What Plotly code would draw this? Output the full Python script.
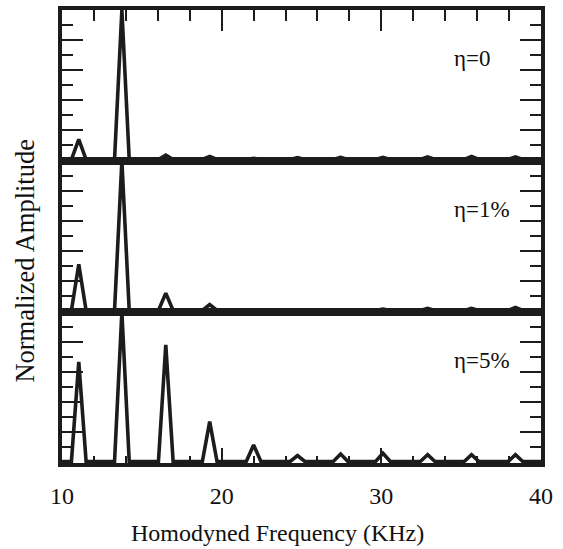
import plotly.graph_objects as go
from plotly.subplots import make_subplots

# ---- data ----
peak_freqs = [11.05, 13.75, 16.5, 19.25, 22.0, 24.75, 27.45, 30.1, 32.9, 35.65, 38.4]
amp_eta0 = [0.135, 1.0, 0.03, 0.02, 0.008, 0.012, 0.015, 0.015, 0.018, 0.02, 0.018]
amp_eta1 = [0.31, 1.0, 0.116, 0.04, 0.004, 0.004, 0.006, 0.01, 0.015, 0.015, 0.02]
amp_eta5 = [0.667, 1.0, 0.78, 0.267, 0.11, 0.04, 0.05, 0.055, 0.045, 0.045, 0.045]
panel_labels = ["η=0", "η=1%", "η=5%"]
x_tick_vals = [10, 20, 30, 40]
x_tick_text = ["10", "20", "30", "40"]

HALF_WIDTH = 0.46  # half base width of each spectral line (KHz)
X_MIN, X_MAX = 10, 40


def spectrum(freqs, amps):
    xs, ys = [X_MIN], [0.0]
    for f, a in zip(freqs, amps):
        xs += [f - HALF_WIDTH, f, f + HALF_WIDTH]
        ys += [0.0, a, 0.0]
    xs.append(X_MAX)
    ys.append(0.0)
    return xs, ys


fig = make_subplots(rows=3, cols=1, shared_xaxes=True, vertical_spacing=0)

LINE = "#1c1c1c"
FONT = "Liberation Serif"

for i, amps in enumerate([amp_eta0, amp_eta1, amp_eta5]):
    xs, ys = spectrum(peak_freqs, amps)
    fig.add_trace(go.Scatter(x=xs, y=ys, mode="lines",
                             line=dict(color=LINE, width=3.6),
                             showlegend=False, cliponaxis=True, hoverinfo="skip"),
                  row=i + 1, col=1)

yaxis_common = dict(
    range=[-0.01, 1.0], showline=True, linecolor=LINE, linewidth=3.5,
    mirror="allticks", ticks="inside", ticklen=21, tickwidth=2, tickcolor=LINE,
    tickmode="array", tickvals=[0.2, 0.4, 0.6, 0.8], showticklabels=False,
    showgrid=False, zeroline=False,
    minor=dict(ticks="inside", ticklen=11, tickwidth=2, tickcolor=LINE,
               tickmode="array", tickvals=[0.1, 0.3, 0.5, 0.7, 0.9], showgrid=False),
)
for r in (1, 2, 3):
    fig.update_yaxes(row=r, col=1, **yaxis_common)

xaxis_common = dict(range=[X_MIN, X_MAX], showline=True, linecolor=LINE, linewidth=3.5,
                    mirror=True, showgrid=False, zeroline=False)
# top panel: ticks along the top edge
fig.update_xaxes(row=1, col=1, side="top", ticks="inside", ticklen=21, tickwidth=2,
                 tickcolor=LINE, tickmode="array", tickvals=x_tick_vals,
                 showticklabels=False,
                 minor=dict(ticks="inside", ticklen=11, tickwidth=2, tickcolor=LINE,
                            dtick=2, tick0=0, showgrid=False),
                 **xaxis_common)
fig.update_xaxes(row=2, col=1, ticks="", showticklabels=False, **xaxis_common)
fig.update_xaxes(row=3, col=1, side="bottom", ticks="inside", ticklen=15, tickwidth=2,
                 tickcolor=LINE, tickmode="array", tickvals=x_tick_vals,
                 ticktext=x_tick_text, showticklabels=True,
                 tickfont=dict(family=FONT, size=24, color="#111"),
                 ticklabelstandoff=8, ticklabeloverflow="allow",
                 minor=dict(ticks="inside", ticklen=7, tickwidth=2, tickcolor=LINE,
                            dtick=2, tick0=0, showgrid=False),
                 **xaxis_common)

# panel labels
for i, txt in enumerate(panel_labels):
    yref = "y domain" if i == 0 else f"y{i + 1} domain"
    xref = "x" if i == 0 else f"x{i + 1}"
    fig.add_annotation(x=34.45, y=0.68, xref=xref, yref=yref, text=txt,
                       showarrow=False, xanchor="left", yanchor="middle",
                       font=dict(family=FONT, size=23, color="#111"))

# axis titles
fig.add_annotation(x=-0.078, y=0.446, xref="paper", yref="paper",
                   text="Normalized Amplitude", textangle=-90, showarrow=False,
                   xanchor="center", yanchor="middle",
                   font=dict(family=FONT, size=26.5, color="#111"))
fig.add_annotation(x=0.449, y=-0.155, xref="paper", yref="paper",
                   text="Homodyned Frequency (KHz)", showarrow=False,
                   xanchor="center", yanchor="middle",
                   font=dict(family=FONT, size=24, color="#111"))

fig.update_layout(width=563, height=549, margin=dict(l=62, r=13, t=10, b=86),
                  paper_bgcolor="white", plot_bgcolor="white", hovermode=False)

# remove the default page-body margin so the figure fills the window exactly
fig.write_html("out.html", config={"displayModeBar": False},
               post_script="document.body.style.margin='0';"
                           "document.body.style.overflow='hidden';")
